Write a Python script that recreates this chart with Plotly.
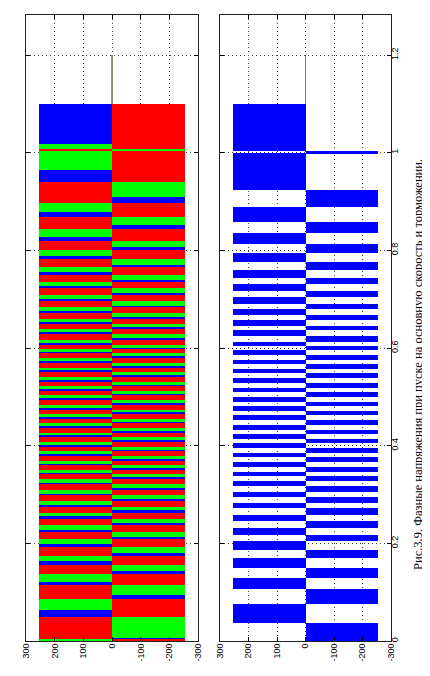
import plotly.graph_objects as go

# ---------------- data ----------------
U = 255            # voltage amplitude, V
T_OFF = 1.1        # supply switched off, s
T_STOP = 1.2       # end of record, s

# phase A (blue) switching instants, s; sign of first interval
phase_a_switch = [0.036, 0.075, 0.106, 0.130, 0.150, 0.169, 0.186, 0.205, 0.218, 0.232,
                  0.246, 0.259, 0.272, 0.282, 0.295, 0.306, 0.317, 0.328, 0.338, 0.347,
                  0.357, 0.366, 0.376, 0.386, 0.395, 0.405, 0.414, 0.424, 0.433, 0.443,
                  0.452, 0.462, 0.471, 0.481, 0.490, 0.500, 0.509, 0.519, 0.528, 0.538,
                  0.548, 0.557, 0.567, 0.576, 0.586, 0.595, 0.604, 0.613, 0.624, 0.636,
                  0.646, 0.657, 0.667, 0.679, 0.691, 0.705, 0.717, 0.731, 0.744, 0.760,
                  0.777, 0.794, 0.813, 0.835, 0.859, 0.888, 0.924, 0.999, 1.003, 1.100]
phase_a_start = -1

# phase C (red)
phase_r_switch = [0.005, 0.050, 0.087, 0.114, 0.138, 0.156, 0.175, 0.192, 0.209, 0.223,
                  0.237, 0.250, 0.263, 0.275, 0.286, 0.299, 0.310, 0.321, 0.331, 0.341,
                  0.350, 0.360, 0.369, 0.379, 0.389, 0.398, 0.408, 0.417, 0.427, 0.436,
                  0.446, 0.455, 0.465, 0.474, 0.484, 0.493, 0.503, 0.512, 0.522, 0.531,
                  0.541, 0.551, 0.560, 0.570, 0.579, 0.589, 0.598, 0.607, 0.617, 0.628,
                  0.639, 0.650, 0.660, 0.671, 0.683, 0.696, 0.709, 0.722, 0.735, 0.749,
                  0.766, 0.783, 0.800, 0.820, 0.843, 0.869, 0.897, 0.941, 1.004, 1.008,
                  1.100]
phase_r_start = -1

# phase B (green)
phase_g_switch = [0.007, 0.063, 0.095, 0.120, 0.143, 0.163, 0.180, 0.199, 0.214, 0.227,
                  0.241, 0.255, 0.268, 0.279, 0.291, 0.302, 0.313, 0.324, 0.335, 0.344,
                  0.354, 0.363, 0.373, 0.383, 0.392, 0.402, 0.411, 0.421, 0.430, 0.440,
                  0.449, 0.459, 0.468, 0.478, 0.487, 0.497, 0.506, 0.516, 0.525, 0.535,
                  0.545, 0.554, 0.564, 0.573, 0.583, 0.592, 0.601, 0.610, 0.620, 0.632,
                  0.643, 0.653, 0.664, 0.675, 0.687, 0.700, 0.713, 0.726, 0.740, 0.755,
                  0.771, 0.788, 0.807, 0.828, 0.851, 0.878, 0.910, 0.964, 1.004, 1.008,
                  1.018, 1.100]
phase_g_start = 1

volt_ticks = [300, 200, 100, 0, -100, -200, -300]
volt_labels = ["300", "200", "100", "0", "-100", "-200", "-300"]
time_ticks = [0, 0.2, 0.4, 0.6, 0.8, 1.0, 1.2]
time_labels = ["0", "0.2", "0.4", "0.6", "0.8", "1", "1.2"]
caption = "Рис.3.9. Фазные напряжения при пуске на основную скорость и торможении."

BLUE, GREEN, RED = "#0000FF", "#00FF00", "#FF0000"


def segments(switch, start):
    ys, ws, xs = [], [], []
    t0, s = 0.0, start
    for t1 in switch:
        ys.append((t0 + t1) / 2)
        ws.append(t1 - t0)
        xs.append(s * U)
        t0, s = t1, -s
    return ys, ws, xs


def phase_bar(switch, start, color, xa, ya):
    ys, ws, xs = segments(switch, start)
    return go.Bar(orientation="h", y=ys, x=xs, width=ws, base=0,
                  marker=dict(color=color, line=dict(width=0)),
                  xaxis=xa, yaxis=ya, hoverinfo="skip")


def tail(color, xa, ya):
    return go.Scatter(x=[0, 0], y=[T_OFF, T_STOP], mode="lines",
                      line=dict(color=color, width=1), xaxis=xa, yaxis=ya,
                      hoverinfo="skip")


fig = go.Figure()
# top (left) panel: three phases, drawn blue, green, red
fig.add_trace(phase_bar(phase_a_switch, phase_a_start, BLUE, "x", "y"))
fig.add_trace(phase_bar(phase_g_switch, phase_g_start, GREEN, "x", "y"))
fig.add_trace(phase_bar(phase_r_switch, phase_r_start, RED, "x", "y"))
fig.add_trace(tail(BLUE, "x", "y"))
fig.add_trace(tail(GREEN, "x", "y"))
fig.add_trace(tail("#FF6666", "x", "y"))
# bottom (right) panel: phase A
fig.add_trace(phase_bar(phase_a_switch, phase_a_start, BLUE, "x2", "y2"))
fig.add_trace(tail("#6666FF", "x2", "y2"))

W, H = 430, 676
ydom = [(H - 633) / H, (H - 7) / H]
tickfont = dict(family="Liberation Sans, Arial, sans-serif", size=9, color="black")
GRID = dict(showgrid=True, gridcolor="#444", griddash="1px,3px", gridwidth=1)

common_x = dict(range=[300, -300], tickvals=volt_ticks, ticktext=volt_labels,
                tickangle=-90, ticks="inside", ticklen=4, tickcolor="black",
                showline=True, linecolor="#222", linewidth=1, mirror="ticks",
                zeroline=False, tickfont=tickfont, automargin=False,
                ticklabelstandoff=-2, **GRID)
common_y = dict(range=[0, 1.282], tickvals=time_ticks, ticktext=time_labels,
                tickangle=-90, ticks="inside", ticklen=4, tickcolor="black",
                showline=True, linecolor="#222", linewidth=1, mirror="ticks",
                zeroline=False, tickfont=tickfont, automargin=False, domain=ydom,
                ticklabelstandoff=-5, **GRID)

fig.update_layout(
    width=W, height=H, autosize=False,
    margin=dict(l=0, r=0, t=0, b=0, pad=0),
    paper_bgcolor="white", plot_bgcolor="white",
    showlegend=False, barmode="overlay", bargap=0,
    xaxis=dict(common_x, domain=[18 / W, 190 / W], anchor="y"),
    yaxis=dict(common_y, anchor="x", showticklabels=False),
    xaxis2=dict(common_x, domain=[212 / W, 383 / W], anchor="y2"),
    yaxis2=dict(common_y, anchor="x2", side="right", showticklabels=True),
    annotations=[dict(text=caption, textangle=-90, x=410 / W, y=(H - 357) / H,
                      xref="paper", yref="paper", showarrow=False,
                      xanchor="center", yanchor="middle",
                      font=dict(family="Liberation Serif, Times New Roman, serif",
                                size=12.5, color="black"))],
)

fig.write_html("out.html")
